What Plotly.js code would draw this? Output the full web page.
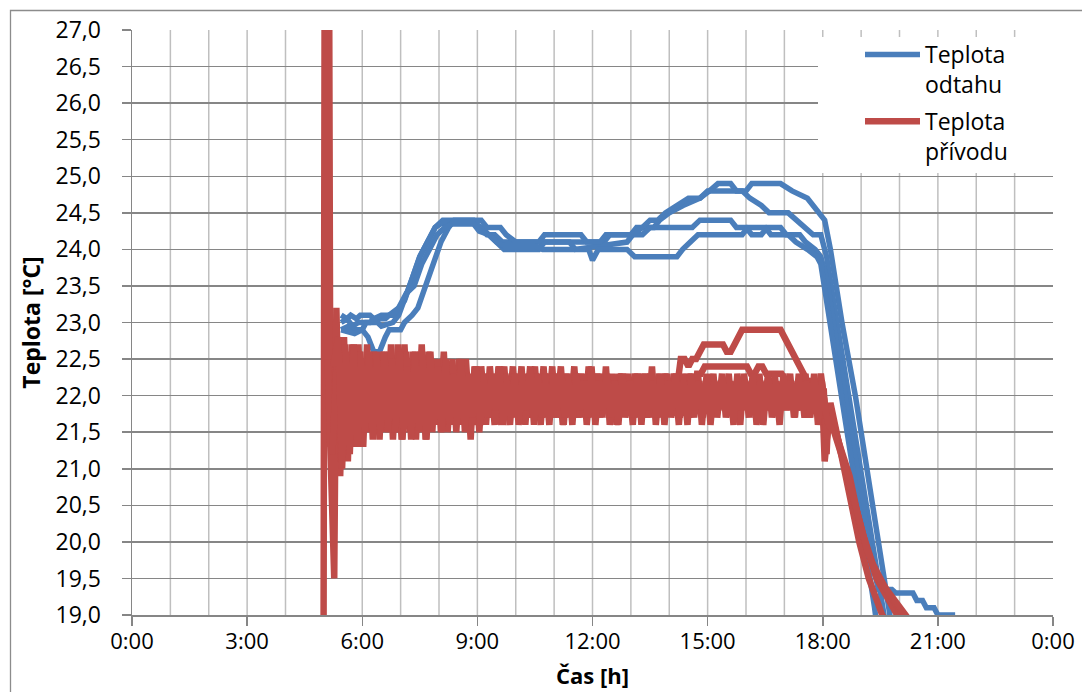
<!DOCTYPE html>
<html><head><meta charset="utf-8">
<script src="https://cdn.plot.ly/plotly-3.0.1.min.js"></script>
<style>html,body{margin:0;padding:0;background:#fff}#chart{width:1082px;height:692px}</style>
</head><body><div id="chart"></div>
<script>
// ---------- axis labels ----------
const xTickVals = [0, 3, 6, 9, 12, 15, 18, 21, 24];
const xTickText = ['0:00', '3:00', '6:00', '9:00', '12:00', '15:00', '18:00', '21:00', '0:00'];
const seriesNames = ['Teplota<br>odtahu', 'Teplota<br>přívodu'];
const xTitle = 'Čas [h]';
const yTitle = 'Teplota [°C]';

// ---------- Teplota odtahu (blue), one line per day ----------
const odtahT1 = [5.45,5.6,5.7,5.85,5.95,6.2,6.3,6.6,6.7,6.95,7.1,7.3,7.5,7.7,7.9,8.1,8.25,8.9,9.05,9.25,9.45,9.65,9.85,12.3,12.45,13.0,13.15,13.6,13.75,14.0,14.36,14.8,15.05,15.27,15.6,15.75,16.0,16.15,16.9,17.2,17.6,17.9,18.05,18.2,18.5,18.85,19.15,19.45,19.75,19.9];
const odtahV1 = [23.1,23.05,23.1,23.05,23.1,23.1,23.05,23.05,23.1,23.2,23.3,23.6,23.9,24.1,24.3,24.4,24.4,24.4,24.3,24.2,24.2,24.1,24.1,24.1,24.2,24.2,24.3,24.3,24.4,24.5,24.6,24.7,24.8,24.9,24.9,24.8,24.8,24.9,24.9,24.8,24.7,24.5,24.4,24.0,23.0,22.0,21.0,20.0,19.0,18.5];

const odtahT2 = [5.45,5.65,5.75,6.0,6.1,6.4,6.5,6.8,6.95,7.1,7.3,7.5,7.7,7.9,8.05,8.2,8.95,9.1,9.3,9.5,9.7,10.6,10.75,11.4,11.55,12.9,13.05,13.3,13.5,13.7,13.9,14.2,14.5,14.8,15.0,15.9,16.1,16.4,16.6,17.1,17.3,17.55,17.75,17.95,18.1,18.4,18.7,19.0,19.3,19.6,19.75];
const odtahV2 = [22.9,22.95,22.9,22.9,23.0,23.0,22.95,23.0,23.1,23.3,23.6,23.9,24.1,24.3,24.35,24.35,24.35,24.3,24.2,24.1,24.0,24.0,24.1,24.1,24.0,24.1,24.2,24.3,24.4,24.4,24.5,24.6,24.7,24.7,24.8,24.8,24.7,24.6,24.5,24.5,24.4,24.3,24.2,24.2,23.9,22.9,21.9,20.9,19.9,19.0,18.5];

const odtahT3 = [5.45,5.8,6.0,6.15,6.3,6.45,6.6,6.7,7.0,7.1,7.3,7.45,7.65,7.85,8.05,8.25,8.4,9.1,9.25,9.6,9.75,10.0,10.6,10.75,11.7,11.85,12.2,12.35,13.3,13.5,14.6,14.8,15.6,15.75,16.0,16.15,16.4,16.55,16.9,17.05,17.4,17.55,17.8,17.95,18.1,18.4,18.7,19.0,19.3,19.45,19.8,19.9,20.35,20.45,20.6,20.7,20.9,21.0,21.45];
const odtahV3 = [22.9,22.85,22.9,22.8,22.6,22.6,22.8,22.9,22.9,23.0,23.1,23.2,23.5,23.8,24.1,24.3,24.4,24.4,24.3,24.3,24.2,24.1,24.1,24.2,24.2,24.1,24.1,24.2,24.2,24.3,24.3,24.4,24.4,24.3,24.3,24.2,24.2,24.3,24.3,24.2,24.2,24.1,24.0,23.9,23.6,22.6,21.6,20.6,19.7,19.35,19.35,19.3,19.3,19.2,19.2,19.1,19.1,19.0,19.0];

const odtahT4 = [5.45,5.6,5.75,5.9,6.2,6.3,6.5,6.8,6.95,7.15,7.35,7.55,7.75,7.95,8.15,8.35,8.9,9.05,9.3,9.5,9.7,10.5,10.7,11.9,12.0,12.15,12.9,13.1,14.2,14.35,14.55,14.75,15.9,16.05,16.5,16.65,17.1,17.3,17.6,17.85,17.95,18.25,18.55,18.8,19.1,19.35,19.45];
const odtahV4 = [23.0,23.05,22.95,23.0,23.0,23.05,23.1,23.1,23.2,23.4,23.5,23.8,24.0,24.2,24.3,24.35,24.35,24.25,24.2,24.1,24.05,24.05,24.0,24.0,23.85,24.0,24.0,23.9,23.9,24.0,24.1,24.2,24.2,24.3,24.3,24.2,24.2,24.1,24.0,23.9,23.8,22.8,21.8,21.0,20.0,19.1,18.7];

// ---------- Teplota přívodu (red), one line per day ----------
// start of each day (irregular points)
const privodHeadT1 = [4.99, 5.03, 5.12, 5.17];
const privodHeadV1 = [18.0, 31.0, 31.0, 21.3];
const privodHeadT2 = [5.1, 5.27];
const privodHeadV2 = [22.5, 19.5];
const privodHeadT3 = [5.22];
const privodHeadV3 = [21.2];
const privodHeadT4 = [5.25];
const privodHeadV4 = [22.4];

// regularly logged part (every 6 minutes)
const privodStart = [5.3, 5.325, 5.35, 5.375];
const privodStep = 0.1;
const privodLog1 = [
22.9,21.0,22.7,21.2,22.6,21.4,22.7,21.3,22.5,21.6,
22.6,21.5,22.4,21.7,22.6,21.4,22.5,21.5,22.7,21.6,
22.4,21.4,22.6,21.5,22.5,21.7,22.3,21.6,22.5,21.7,
22.4,21.6,22.3,21.8,22.5,21.7,22.2,21.6,22.4,21.8,
22.3,21.7,22.2,21.8,22.4,21.7,22.3,21.9,22.2,21.7,
22.3,21.8,22.4,21.7,22.2,21.8,22.3,21.7,22.1,21.8,
22.3,21.7,22.2,21.9,22.3,21.7,22.4,21.8,22.2,21.7,
22.3,21.8,22.2,21.7,22.3,21.9,22.1,21.8,22.3,21.7,
22.2,21.8,22.3,21.7,22.2,21.9,22.3,21.8,22.2,22.1,
22.5,22.5,22.4,22.5,22.5,22.6,22.7,22.7,22.7,22.7,
22.7,22.7,22.6,22.6,22.7,22.8,22.9,22.9,22.9,22.9,
22.9,22.9,22.9,22.9,22.9,22.9,22.9,22.8,22.7,22.6,
22.5,22.4,22.3,22.2,22.2,21.9,22.2,21.8];
const privodLog2 = [
23.2,20.9,22.8,21.1,22.7,21.3,22.6,21.3,22.7,21.5,
22.5,21.6,22.6,21.5,22.4,21.5,22.7,21.4,22.5,21.6,
22.6,21.5,22.4,21.6,22.6,21.5,22.4,21.7,22.6,21.5,
22.3,21.7,22.5,21.6,22.3,21.4,22.4,21.7,22.3,21.6,
22.4,21.8,22.2,21.6,22.3,21.8,22.4,21.7,22.3,21.8,
22.2,21.7,22.3,21.8,22.4,21.7,22.2,21.8,22.3,21.6,
22.2,21.8,22.4,21.7,22.2,21.8,22.3,21.7,22.3,21.8,
22.2,21.7,22.3,21.6,22.2,21.8,22.3,21.7,22.2,21.8,
22.3,21.7,22.2,21.8,22.3,21.7,22.2,21.8,22.3,21.9,
22.2,21.8,22.3,21.9,22.3,22.3,22.4,22.4,22.4,22.4,
22.4,22.4,22.4,22.4,22.4,22.4,22.4,22.4,22.3,22.3,
22.4,22.4,22.3,22.3,22.3,22.3,22.3,22.2,22.2,22.1,
21.8,22.2,21.7,22.1,21.8,22.2,21.7,22.1];
const privodLog3 = [
22.6,21.1,22.7,21.3,22.5,21.4,22.6,21.5,22.4,21.5,
22.6,21.4,22.5,21.6,22.7,21.5,22.4,21.4,22.6,21.5,
22.5,21.6,22.7,21.4,22.4,21.6,22.5,21.5,22.3,21.6,
22.5,21.5,22.4,21.7,22.2,21.6,22.4,21.5,22.3,21.7,
22.2,21.6,22.4,21.7,22.2,21.6,22.3,21.8,22.4,21.6,
22.3,21.7,22.2,21.6,22.3,21.8,22.4,21.7,22.2,21.6,
22.3,21.8,22.2,21.7,22.3,21.6,22.2,21.8,22.3,21.7,
22.4,21.6,22.2,21.8,22.3,21.7,22.2,21.6,22.3,21.8,
22.2,21.7,22.4,21.6,22.2,21.8,22.3,21.7,22.2,21.6,
22.3,21.8,22.2,21.7,22.3,21.6,22.2,21.8,22.3,21.7,
22.2,21.8,22.3,21.7,22.2,21.6,22.3,21.8,22.2,21.7,
22.3,21.6,22.2,21.8,22.3,21.7,22.2,21.8,22.3,21.7,
22.2,21.8,22.3,21.7,22.2,21.8,22.3,21.9];
const privodLog4 = [
22.8,21.0,22.6,21.2,22.7,21.3,22.5,21.5,22.6,21.4,
22.5,21.5,22.6,21.5,22.5,21.6,22.6,21.5,22.4,21.4,
22.6,21.5,22.5,21.4,22.6,21.6,22.4,21.5,22.5,21.6,
22.3,21.6,22.5,21.5,22.3,21.7,22.4,21.6,22.2,21.7,
22.3,21.8,22.4,21.6,22.2,21.7,22.3,21.6,22.2,21.8,
22.4,21.6,22.3,21.7,22.2,21.6,22.3,21.8,22.4,21.7,
22.2,21.6,22.3,21.8,22.2,21.7,22.4,21.6,22.2,21.8,
22.3,21.7,22.2,21.6,22.3,21.8,22.2,21.7,22.3,21.6,
22.3,21.8,22.2,21.7,22.3,21.6,22.2,21.8,22.3,21.7,
22.2,21.6,22.3,21.8,22.2,21.7,22.3,21.6,22.2,21.8,
22.3,21.7,22.2,21.6,22.3,21.8,22.2,21.7,22.3,21.6,
22.2,21.8,22.3,21.7,22.2,21.6,22.3,21.8,22.2,21.7,
22.3,21.8,22.2,21.7,22.3,21.6,22.2,21.8];

// evening cool-down (irregular points)
const privodTailT1 = [18.05,18.2,18.4,18.55,18.75,18.95,19.2,19.55,19.8];
const privodTailV1 = [21.1,21.9,21.4,21.0,20.5,20.0,19.5,19.0,18.8];
const privodTailT2 = [18.1,18.15,18.45,18.7,18.9,19.1,19.4,19.9,20.1];
const privodTailV2 = [21.2,21.8,21.3,20.9,20.4,20.0,19.5,19.0,18.85];
const privodTailT3 = [18.1,18.2,18.5,18.8,19.05,19.3,19.7,20.1,20.3];
const privodTailV3 = [21.4,21.8,21.2,20.6,20.1,19.7,19.3,19.0,18.85];
const privodTailT4 = [18.15,18.3,18.6,18.9,19.15,19.45,19.85,20.3,20.45];
const privodTailV4 = [21.6,21.5,21.0,20.4,19.9,19.5,19.2,18.9,18.8];

// ---------- build traces ----------
const blue = '#4a7ebb', red = '#be4b48';
const font = 'Open Sans, Noto Sans, sans-serif';
const traces = [];
const odtah = [[odtahT1, odtahV1], [odtahT2, odtahV2], [odtahT3, odtahV3], [odtahT4, odtahV4]];
odtah.forEach(([t, v], i) => traces.push({
  type: 'scatter', mode: 'lines', x: t, y: v, name: seriesNames[0],
  legendgroup: 'odtah', showlegend: i === 0,
  line: {color: blue, width: 5.5}, hoverinfo: 'skip'
}));
const privod = [
  [privodHeadT1, privodHeadV1, privodLog1, privodTailT1, privodTailV1],
  [privodHeadT2, privodHeadV2, privodLog2, privodTailT2, privodTailV2],
  [privodHeadT3, privodHeadV3, privodLog3, privodTailT3, privodTailV3],
  [privodHeadT4, privodHeadV4, privodLog4, privodTailT4, privodTailV4]
];
privod.forEach(([hT, hV, log, tT, tV], i) => {
  const logT = log.map((_, k) => +(privodStart[i] + k * privodStep).toFixed(3));
  traces.push({
    type: 'scatter', mode: 'lines',
    x: hT.concat(logT, tT), y: hV.concat(log, tV), name: seriesNames[1],
    legendgroup: 'privod', showlegend: i === 0,
    line: {color: red, width: 6.5}, hoverinfo: 'skip'
  });
});

// ---------- layout ----------
const L = 132, R = 1053, T = 30, B = 615;
const pw = R - L, ph = B - T;
const px2x = p => (p - L) / pw, py2y = p => (B - p) / ph;
const shapes = [];
for (let h = 1; h < 24; h++) {
  shapes.push({type: 'line', xref: 'x', yref: 'y', x0: h, x1: h, y0: 19, y1: 27,
    layer: 'below', line: {color: '#bfbfbf', width: 1.5}});
}
// legend background
shapes.push({type: 'rect', xref: 'paper', yref: 'paper',
  x0: px2x(818), x1: 1, y0: py2y(173), y1: py2y(37),
  fillcolor: '#ffffff', line: {width: 0}, layer: 'above'});
// outer chart frame
shapes.push({type: 'rect', xref: 'paper', yref: 'paper',
  x0: px2x(10.5), x1: px2x(1100), y0: py2y(720), y1: py2y(10.5),
  fillcolor: 'rgba(0,0,0,0)', line: {color: '#8c8c8c', width: 1.3}, layer: 'above'});

const layout = {
  width: 1082, height: 692,
  margin: {l: L, r: 1082 - R, t: T, b: 692 - B},
  paper_bgcolor: '#ffffff', plot_bgcolor: 'rgba(0,0,0,0)',
  separators: ', ',
  font: {family: font, size: 23, color: '#000'},
  showlegend: true,
  legend: {x: px2x(860), y: py2y(33), xanchor: 'left', yanchor: 'top',
    bgcolor: 'rgba(0,0,0,0)', font: {family: font, size: 23, color: '#000'},
    valign: 'top', itemwidth: 55, tracegroupgap: 4},
  xaxis: {range: [0, 24], tickmode: 'array', tickvals: xTickVals, ticktext: xTickText,
    showgrid: false, zeroline: false, showline: true, linecolor: '#868686', linewidth: 1.5,
    ticks: 'outside', ticklen: 9, tickwidth: 1.5, tickcolor: '#868686',
    tickfont: {family: font, size: 22}, ticklabelstandoff: -3, automargin: false},
  yaxis: {range: [19, 27], tick0: 19, dtick: 0.5, tickformat: '.1f',
    showgrid: true, gridcolor: '#868686', gridwidth: 1.5, zeroline: false,
    showline: true, linecolor: '#868686', linewidth: 1.5,
    ticks: 'outside', ticklen: 9, tickwidth: 1.5, tickcolor: '#868686',
    tickfont: {family: font, size: 23}, ticklabelstandoff: 16, automargin: false,
    title: {text: '<b>' + yTitle + '</b>', font: {family: font, size: 23}, standoff: 8}},
  annotations: [{
    text: '<b>' + xTitle + '</b>', xref: 'paper', yref: 'paper',
    x: 0.5, y: py2y(691), xanchor: 'center', yanchor: 'bottom', showarrow: false,
    borderpad: 0, font: {family: font, size: 22, color: '#000'}
  }],
  shapes: shapes
};

Plotly.newPlot('chart', traces, layout, {displayModeBar: false, staticPlot: true});
</script></body></html>
